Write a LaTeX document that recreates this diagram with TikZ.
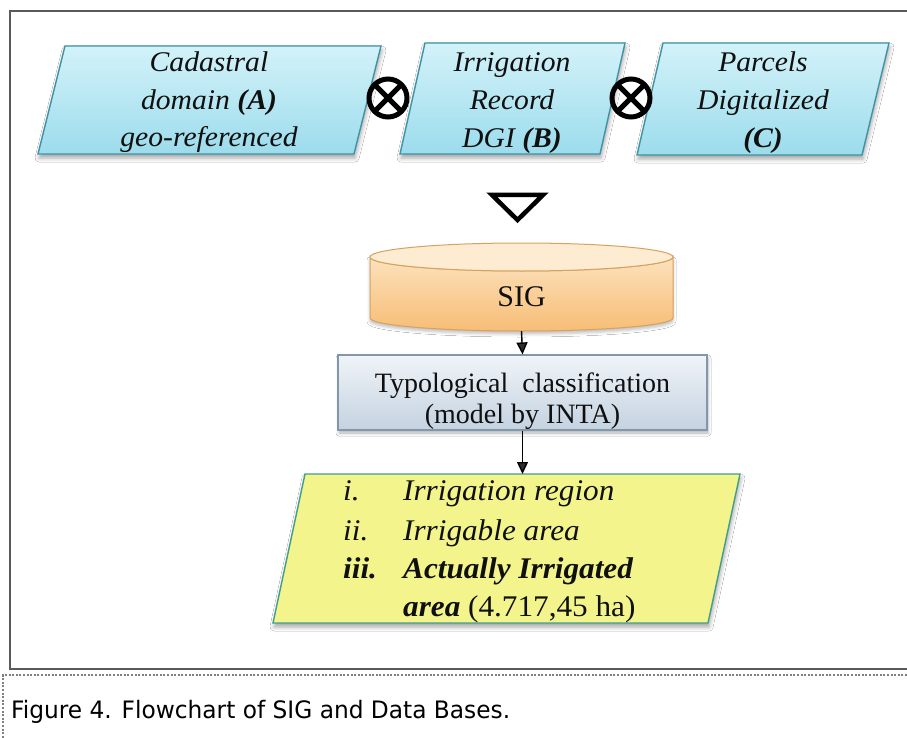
\documentclass[tikz,border=0pt]{standalone}
\usepackage{fontspec}
\setmainfont{Liberation Serif}
\newfontfamily\boxfont[FakeStretch=1.04]{Liberation Serif}
\newfontfamily\capfont[FakeStretch=0.97]{DejaVu Sans}
\usetikzlibrary{arrows.meta,shadows.blur}
\definecolor{cyanTop}{HTML}{D3F2F9}
\definecolor{cyanBot}{HTML}{9CDCEC}
\definecolor{cyanLine}{HTML}{3E94A6}
\definecolor{cylTop}{HTML}{FDEBD2}
\definecolor{cylA}{HTML}{FCE2BC}
\definecolor{cylB}{HTML}{F7BD76}
\definecolor{cylLine}{HTML}{D6A25E}
\definecolor{clsTop}{HTML}{F0F4F8}
\definecolor{clsBot}{HTML}{C4D2E0}
\definecolor{clsLine}{HTML}{8397AC}
\definecolor{yelFill}{HTML}{F3F58C}
\definecolor{yelLine}{HTML}{3F9E8C}
\definecolor{txt}{HTML}{101010}
\definecolor{frame}{HTML}{5A5A5A}
\begin{document}
\begin{tikzpicture}[x=1pt,y=-1pt,
  inbox/.style={top color=cyanTop, bottom color=cyanBot, draw=cyanLine, line width=1.4,
    blur shadow={shadow xshift=1pt, shadow yshift=-4pt, shadow blur radius=4pt, shadow opacity=35}},
  toptext/.style={font=\boxfont\itshape\fontsize{28.5}{32}\selectfont, text=txt, inner sep=0, anchor=base},
  ytext/.style={font=\boxfont\itshape\fontsize{30}{34}\selectfont, text=txt, inner sep=0, anchor=base west},
  serftext/.style={font=\fontsize{28}{32}\selectfont, text=txt, inner sep=0, anchor=base},
  otimesnode/.style={circle, draw=black, line width=5, minimum size=38, inner sep=0,
    path picture={\draw[line width=5] (path picture bounding box.north west) -- (path picture bounding box.south east)
      (path picture bounding box.north east) -- (path picture bounding box.south west);}},
  arr/.style={line width=1.4, -{Triangle[length=12pt,width=11pt]}}
]
\useasboundingbox (0,0) rectangle (907,738);
\fill[white] (0,0) rectangle (907,738);

% frame
\draw[frame, line width=1.5] (907,11) -- (10,11) -- (10,669) -- (907,669);
\draw[gray, line width=1.2, dash pattern=on 2pt off 1.6pt] (907,675) -- (3,675) -- (3,738);

% input parallelograms
\path[inbox] (65,46) -- (381,46) -- (354,154) -- (38,154) -- cycle;
\path[inbox] (425,43) -- (625,43) -- (600,154) -- (400,154) -- cycle;
\path[inbox] (663,43) -- (889,43) -- (862,155) -- (637,155) -- cycle;

\node[toptext] (a1) at (209,72) {Cadastral};
\node[toptext] (a2) at (209,110) {domain \textbf{(A)}};
\node[toptext] (a3) at (209,147) {geo-referenced};
\node[toptext] (b1) at (512,72) {Irrigation};
\node[toptext] (b2) at (512,110) {Record};
\node[toptext] (b3) at (512,148) {DGI \textbf{(B)}};
\node[toptext] (c1) at (763,72) {Parcels};
\node[toptext] (c2) at (763,110) {Digitalized};
\node[toptext] (c3) at (763,148) {\textbf{(C)}};

\node[otimesnode] (x1) at (388,98) {};
\node[otimesnode] (x2) at (631,98) {};

% merge triangle
\draw[line width=4.5, line join=miter] (492,195) -- (543,195) -- (517.5,220) -- cycle;

% SIG cylinder
\path[top color=cylA, bottom color=cylB, draw=cylLine, line width=1,
    blur shadow={shadow xshift=0pt, shadow yshift=-3pt, shadow blur radius=3pt, shadow opacity=25}]
  (370,257) -- (370,318) arc[start angle=180, end angle=0, x radius=151.5, y radius=13]
  -- (673,257) arc[start angle=0, end angle=180, x radius=151.5, y radius=14] -- cycle;
\draw[fill=cylTop, draw=cylLine, line width=1] (521.5,257) ellipse [x radius=151.5, y radius=14];
\node[serftext, font=\fontsize{30}{34}\selectfont] (sig) at (521.5,306) {SIG};
\coordinate (sigbot) at (521.5,331);

% classification box
\node[draw=clsLine, line width=1.2, top color=clsTop, bottom color=clsBot,
  minimum width=369, minimum height=75, inner sep=0,
  blur shadow={shadow xshift=1pt, shadow yshift=-3pt, shadow blur radius=3pt, shadow opacity=30}]
  (cls) at (522.5,392.5) {};
\node[serftext] (cl1) at (522.5,392) {Typological\ \ classification};
\node[serftext] (cl2) at (522.5,423) {(model by INTA)};

% result parallelogram
\path[fill=yelFill, draw=yelLine, line width=1.4,
    blur shadow={shadow xshift=1pt, shadow yshift=-4pt, shadow blur radius=4pt, shadow opacity=35}]
  (305,474) -- (740,474) -- (708,623) -- (273,623) -- cycle;
\coordinate (ytop) at (522.5,474);

\node[ytext] (l1) at (343,500) {i.};
\node[ytext] (t1) at (403,500) {Irrigation region};
\node[ytext] (l2) at (343,540) {ii.};
\node[ytext] (t2) at (403,540) {Irrigable area};
\node[ytext] (l3) at (343,578) {\textbf{iii.}};
\node[ytext] (t3) at (403,578) {\textbf{Actually Irrigated}};
\node[ytext] (t4) at (403,616) {\textbf{area} {\upshape (4.717,45 ha)}};

% connectors
\draw[arr] (sigbot) -- (cls.north);
\draw[arr] (cls.south) -- (ytop);

% caption
\node[font=\capfont\fontsize{24}{28}\selectfont, text=black, inner sep=0, anchor=base west] (cap) at (11,718) {Figure 4. Flowchart of SIG and Data Bases.};
\end{tikzpicture}
\end{document}
